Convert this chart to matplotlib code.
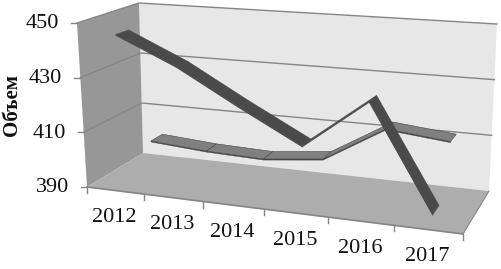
import matplotlib
matplotlib.use("Agg")
import matplotlib.pyplot as plt
from matplotlib.patches import Polygon
import numpy as np

years = ["2012", "2013", "2014", "2015", "2016", "2017"]
dark_values = [445.3, 435, 422.5, 411, 428, 393]
light_values = [400, 398.4, 397.7, 400, 413, 410.7]
y_ticks = [390, 410, 430, 450]
y_label = "Объем"

W, H = 502, 269
fig = plt.figure(figsize=(W / 100, H / 100), dpi=100)
ax = fig.add_axes([0, 0, 1, 1])
ax.set_xlim(0, W)
ax.set_ylim(H, 0)
ax.axis("off")

# scene corners in pixels: (x, value, depth) in unit cube
C = {
    (0, 0, 0): (87, 187), (1, 0, 0): (463, 234),
    (0, 0, 1): (143, 153), (1, 0, 1): (489, 191),
    (0, 1, 0): (77, 23), (1, 1, 0): (475, 44),
    (0, 1, 1): (139, 3), (1, 1, 1): (497, 24),
}
C = {k: np.array(v, float) for k, v in C.items()}
VMIN, VMAX = 390.0, 450.0
PERSP = 1.12


def proj(u, val, z):
    u = u / (u + PERSP * (1 - u))  # perspective along the category axis
    v = (val - VMIN) / (VMAX - VMIN)
    p = np.zeros(2)
    for i in (0, 1):
        for j in (0, 1):
            for k in (0, 1):
                p += C[(i, j, k)] * (u if i else 1 - u) * (v if j else 1 - v) * (z if k else 1 - z)
    return p


def poly(pts, **kw):
    ax.add_patch(Polygon(np.array(pts), closed=True, **kw))


# walls and floor
poly([proj(0, VMIN, 1), proj(1, VMIN, 1), proj(1, VMAX, 1), proj(0, VMAX, 1)],
     facecolor="#e7e7e7", edgecolor="none", zorder=1)
poly([proj(0, VMIN, 0), proj(0, VMIN, 1), proj(0, VMAX, 1), proj(0, VMAX, 0)],
     facecolor="#979797", edgecolor="none", zorder=1)
poly([proj(0, VMIN, 0), proj(1, VMIN, 0), proj(1, VMIN, 1), proj(0, VMIN, 1)],
     facecolor="#adadad", edgecolor="none", zorder=2)

grid = "#858585"
for t in y_ticks:
    a, b, c = proj(0, t, 0), proj(0, t, 1), proj(1, t, 1)
    if t != VMIN:
        ax.plot([a[0], b[0], c[0]], [a[1], b[1], c[1]], color=grid, lw=1.0, zorder=3)
    ax.plot([a[0] - 6, a[0]], [a[1], a[1]], color=grid, lw=1.0, zorder=3)
    ax.text(a[0] - 18, a[1] + 1, str(t), ha="right", va="center",
            family="Liberation Serif", fontsize=16, color="#111111")

# floor front edge, ticks and category labels
a, b = proj(0, VMIN, 0), proj(1, VMIN, 0)
ax.plot([a[0], b[0]], [a[1], b[1]], color=grid, lw=1.2, zorder=3)
e = proj(1, VMIN, 1)
ax.plot([b[0], e[0]], [b[1], e[1]], color=grid, lw=0.8, zorder=3)
n = len(years)
for i in range(n + 1):
    p = proj(i / n, VMIN, 0)
    ax.plot([p[0], p[0]], [p[1], p[1] + 6], color=grid, lw=1.0, zorder=3)
for i, y in enumerate(years):
    p = proj((i + 0.5) / n, VMIN, 0)
    ax.text(p[0] - 1, p[1] + 27, y, ha="center", va="center",
            family="Liberation Serif", fontsize=16, color="#111111")

ax.text(12, 105, y_label, rotation=90, ha="center", va="center",
        family="Liberation Serif", fontweight="bold", fontsize=15, color="#111111")


def ribbon(values, z0, z1, top, side, thick, zorder):
    # underside first, then one quad per segment
    for i in range(len(values) - 1):
        u0, u1 = (i + 0.5) / n, (i + 1.5) / n
        v0, v1 = values[i], values[i + 1]
        poly([proj(u0, v0, z0), proj(u1, v1, z0), proj(u1, v1 - thick, z0), proj(u0, v0 - thick, z0)],
             facecolor=side, edgecolor=side, lw=0.3, zorder=zorder)
        poly([proj(u0, v0, z0), proj(u1, v1, z0), proj(u1, v1, z1), proj(u0, v0, z1)],
             facecolor=top, edgecolor=side, lw=0.4, zorder=zorder + 0.1)


ribbon(light_values, 0.68, 0.89, "#808080", "#454545", 0.4, 4)
ribbon(dark_values, 0.14, 0.36, "#4a4a4a", "#4a4a4a", 0.3, 5)

fig.savefig("out.png", dpi=100)
